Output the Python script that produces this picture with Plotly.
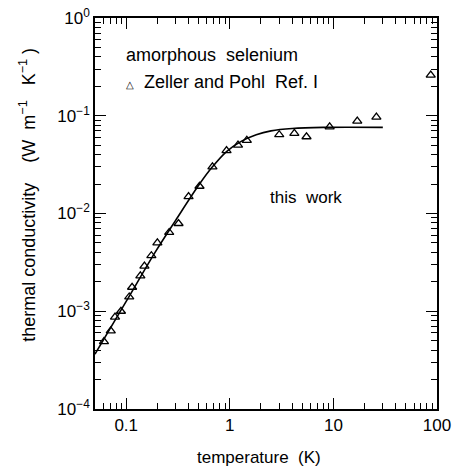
import plotly.graph_objects as go
import numpy as np

# Zeller and Pohl data (temperature K, thermal conductivity W m^-1 K^-1)
T_data = [0.061, 0.071, 0.078, 0.089, 0.107, 0.114, 0.137, 0.150, 0.175, 0.20,
          0.26, 0.32, 0.40, 0.51, 0.68, 0.93, 1.2, 1.46, 3.0, 4.2, 5.5, 9.2,
          17, 26, 87]
k_data = [0.00049, 0.00063, 0.00087, 0.0010, 0.0014, 0.00176, 0.0023, 0.0029,
          0.0037, 0.0050, 0.0064, 0.0079, 0.0149, 0.019, 0.030, 0.044, 0.050,
          0.056, 0.064, 0.066, 0.061, 0.077, 0.088, 0.097, 0.26]

# "this work" curve
T_line = [0.05, 0.1, 0.19, 0.3, 0.51, 0.68, 0.93, 1.3, 1.8, 2.5, 4, 8, 30]
k_line = [0.000364, 0.00126, 0.0040, 0.0085, 0.0200, 0.030, 0.043, 0.055,
          0.064, 0.070, 0.074, 0.076, 0.076]

x_major = [0.1, 1, 10, 100]
x_major_text = ["0.1", "1", "10", "100"]
y_major = [1e-4, 1e-3, 1e-2, 1e-1, 1]
y_major_text = ["10<sup>−4</sup>", "10<sup>−3</sup>", "10<sup>−2</sup>",
                "10<sup>−1</sup>", "10<sup>0</sup>"]

x_minor = [m * 10.0 ** e for e in range(-2, 2) for m in range(2, 10)]
x_minor = [v for v in x_minor if 0.05 <= v <= 100]
y_minor = [m * 10.0 ** e for e in range(-4, 0) for m in range(2, 10)]

FONT = "Liberation Sans, Arial, Helvetica, sans-serif"
FS = 17

fig = go.Figure()
fig.add_trace(go.Scatter(x=T_line, y=k_line, mode="lines",
                         line=dict(color="black", width=1.6, shape="spline", smoothing=1.0),
                         showlegend=False))
fig.add_trace(go.Scatter(x=T_data, y=k_data, mode="markers",
                         marker=dict(symbol="triangle-up-open", size=8,
                                     color="black", line=dict(width=1.3, color="black")),
                         showlegend=False, cliponaxis=False))

axis_common = dict(
    type="log", showgrid=False, zeroline=False, showline=True, linecolor="black",
    linewidth=1.5, mirror="allticks", ticks="inside", ticklen=11, tickwidth=1.2,
    tickcolor="black", tickfont=dict(family=FONT, size=FS, color="black"),
    automargin=False, ticklabeloverflow="allow",
)

fig.update_xaxes(
    **axis_common,
    range=[np.log10(0.05), 2],
    tickmode="array", tickvals=x_major, ticktext=x_major_text,
    minor=dict(tickmode="array", tickvals=x_minor, ticks="inside", ticklen=6,
               tickwidth=1.0, tickcolor="black", showgrid=False),
)
fig.update_yaxes(
    **axis_common,
    range=[-4, 0],
    tickmode="array", tickvals=y_major, ticktext=y_major_text,
    minor=dict(tickmode="array", tickvals=y_minor, ticks="inside", ticklen=6,
               tickwidth=1.0, tickcolor="black", showgrid=False),
)

# axis titles
fig.add_annotation(x=0.48, y=-0.125, xref="paper", yref="paper",
                   xanchor="center", yanchor="middle",
                   text="temperature  (K)", showarrow=False,
                   font=dict(family=FONT, size=FS, color="black"))
fig.add_annotation(x=-0.196, y=0.548, xref="paper", yref="paper",
                   xanchor="center", yanchor="middle", textangle=-90,
                   text="thermal conductivity    (W  m<sup>−1</sup>   K<sup>−1</sup> )",
                   showarrow=False, font=dict(family=FONT, size=18, color="black"))

fig.add_annotation(x=-1.02, y=-0.378, xref="x", yref="y", xanchor="left", yanchor="middle",
                   text="amorphous  selenium", showarrow=False,
                   font=dict(family=FONT, size=18, color="black"))
fig.add_annotation(x=-1.02, y=-0.655, xref="x", yref="y", xanchor="left", yanchor="middle",
                   text="<span style='font-size:10px'>△</span>  Zeller and Pohl  Ref. I",
                   showarrow=False, font=dict(family=FONT, size=18, color="black"))
fig.add_annotation(x=0.37, y=-1.84, xref="x", yref="y",
                   xanchor="left", yanchor="middle",
                   text="this  work", showarrow=False,
                   font=dict(family=FONT, size=FS, color="black"))

fig.update_layout(
    width=454, height=472,
    margin=dict(l=95, r=17, t=18, b=63),
    plot_bgcolor="white", paper_bgcolor="white",
    font=dict(family=FONT, color="black"),
)

# remove the default 8 px page margin so the 454x472 figure fills the window exactly
fig.write_html("out.html", config={"displayModeBar": False},
               post_script="document.body.style.margin='0';")
